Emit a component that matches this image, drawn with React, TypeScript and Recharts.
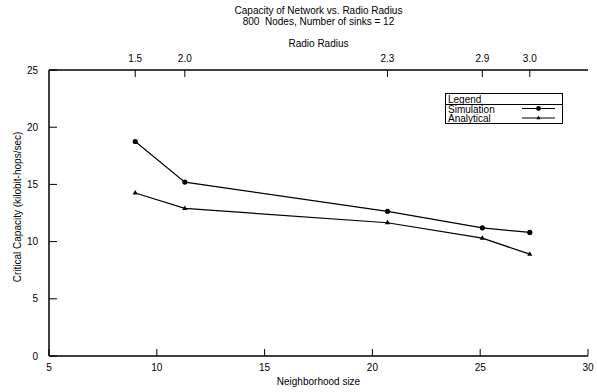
import React from 'react';
import { LineChart, Line, XAxis, YAxis, Label, Legend } from 'recharts';

const neighborhoodSize = [9.0, 11.3, 20.7, 25.1, 27.3];
const radioRadius = ['1.5', '2.0', '2.3', '2.9', '3.0'];
const simulation = [18.75, 15.2, 12.65, 11.2, 10.8];
const analytical = [14.25, 12.9, 11.65, 10.3, 8.9];
const xTicks = [5, 10, 15, 20, 25, 30];
const yTicks = [0, 5, 10, 15, 20, 25];
const titleLines = ['Capacity of Network vs. Radio Radius', '800\u00a0 Nodes, Number of sinks = 12'];

const data = neighborhoodSize.map((n, i) => ({
  n,
  simulation: simulation[i],
  analytical: analytical[i],
}));

const FONT = '"Liberation Sans", Arial, Helvetica, sans-serif';
const FS = 10;

const BottomTick = (props: any) => {
  const { x, y, payload } = props;
  return (
    <g>
      <line x1={x} x2={x} y1={y} y2={y - 7} stroke="#000" strokeWidth={1} />
      <text x={x} y={y + 15} textAnchor="middle" fontSize={FS} fill="#000" fontFamily={FONT}>
        {payload.value}
      </text>
    </g>
  );
};

const TopTick = (props: any) => {
  const { x, y, payload } = props;
  const idx = neighborhoodSize.indexOf(payload.value);
  return (
    <g>
      <line x1={x} x2={x} y1={y} y2={y + 7} stroke="#000" strokeWidth={1} />
      <text x={x} y={y - 8} textAnchor="middle" fontSize={FS} fill="#000" fontFamily={FONT}>
        {idx >= 0 ? radioRadius[idx] : ''}
      </text>
    </g>
  );
};

const LeftTick = (props: any) => {
  const { x, y, payload } = props;
  return (
    <g>
      <line x1={x} x2={x + 8} y1={y} y2={y} stroke="#000" strokeWidth={1} />
      <text x={x - 11} y={y + 3.5} textAnchor="end" fontSize={FS} fill="#000" fontFamily={FONT}>
        {payload.value}
      </text>
    </g>
  );
};

const CircleDot = (props: any) => {
  const { cx, cy } = props;
  return <circle cx={cx} cy={cy} r={2.6} fill="#000" stroke="none" />;
};

const TriDot = (props: any) => {
  const { cx, cy } = props;
  return (
    <path
      d={`M${cx},${cy - 3} L${cx + 2.6},${cy + 1.6} L${cx - 2.6},${cy + 1.6} Z`}
      fill="#000"
      stroke="none"
    />
  );
};

const LegendBox = () => (
  <svg width={119} height={32} style={{ display: 'block', fontFamily: FONT }}>
    <rect x={0.5} y={0.5} width={117} height={30} fill="#fff" stroke="#000" strokeWidth={1} />
    <line x1={0.5} x2={117.5} y1={11.5} y2={11.5} stroke="#000" strokeWidth={1} />
    <text x={3} y={9.5} fontSize={FS} fill="#000">Legend</text>
    <text x={3} y={19.5} fontSize={FS} fill="#000">Simulation</text>
    <line x1={77} x2={110} y1={15.5} y2={15.5} stroke="#000" strokeWidth={1.2} />
    <circle cx={93.5} cy={15.5} r={2.4} fill="#000" />
    <text x={3} y={29} fontSize={FS} fill="#000">Analytical</text>
    <line x1={77} x2={110} y1={25} y2={25} stroke="#000" strokeWidth={1.2} />
    <path d="M93.5,22.5 L95.6,26.2 L91.4,26.2 Z" fill="#000" />
  </svg>
);

export default function App() {
  return (
    <div style={{ position: 'absolute', left: 0, top: 0, width: 597, height: 392, background: '#fff', fontFamily: FONT }}>
      <LineChart
        width={597}
        height={392}
        data={data}
        margin={{ top: 0, right: 9, bottom: 0, left: 0 }}
        style={{ fontFamily: FONT }}
      >
        <XAxis
          xAxisId="bottom"
          dataKey="n"
          type="number"
          domain={[5, 30]}
          ticks={xTicks}
          orientation="bottom"
          height={36}
          tickSize={0}
          tickMargin={0}
          tickLine={false}
          tick={<BottomTick />}
          axisLine={{ stroke: '#000', strokeWidth: 1.5 }}
          interval={0}
        >
          <Label
            content={(p: any) => {
              const vb = p.viewBox || {};
              return (
                <text x={vb.x + vb.width / 2} y={vb.y + 29} textAnchor="middle" fontSize={FS} fill="#000" fontFamily={FONT}>
                  Neighborhood size
                </text>
              );
            }}
          />
        </XAxis>
        <XAxis
          xAxisId="top"
          dataKey="n"
          type="number"
          domain={[5, 30]}
          ticks={neighborhoodSize}
          orientation="top"
          height={70}
          tickSize={0}
          tickMargin={0}
          tickLine={false}
          tick={<TopTick />}
          axisLine={{ stroke: '#000', strokeWidth: 1.5 }}
          interval={0}
        >
          <Label
            content={(p: any) => {
              const vb = p.viewBox || {};
              const cx = vb.x + vb.width / 2;
              return (
                <g fontFamily={FONT} fontSize={FS} fill="#000">
                  <text x={cx} y={14} textAnchor="middle">{titleLines[0]}</text>
                  <text x={cx} y={24.5} textAnchor="middle">{titleLines[1]}</text>
                  <text x={cx} y={46.5} textAnchor="middle">Radio Radius</text>
                </g>
              );
            }}
          />
        </XAxis>
        <YAxis
          yAxisId="left"
          type="number"
          domain={[0, 25]}
          ticks={yTicks}
          orientation="left"
          width={49}
          tickSize={0}
          tickMargin={0}
          tickLine={false}
          tick={<LeftTick />}
          axisLine={{ stroke: '#000', strokeWidth: 1.5 }}
          interval={0}
        >
          <Label
            content={(p: any) => {
              const vb = p.viewBox || {};
              const cy = vb.y + vb.height / 2 - 6;
              return (
                <text
                  x={21}
                  y={cy}
                  textAnchor="middle"
                  fontSize={FS}
                  fill="#000"
                  fontFamily={FONT}
                  transform={`rotate(-90 21 ${cy})`}
                >
                  Critical Capacity (kilobit-hops/sec)
                </text>
              );
            }}
          />
        </YAxis>
        <YAxis
          yAxisId="right"
          type="number"
          domain={[0, 25]}
          orientation="right"
          width={0}
          tick={false}
          tickLine={false}
          axisLine={{ stroke: '#000', strokeWidth: 1.5 }}
        />
        <Legend
          layout="horizontal"
          verticalAlign="middle"
          align="center"
          content={<LegendBox />}
          wrapperStyle={{ position: 'absolute', left: 445, top: 93, width: 119, height: 32 }}
        />
        <Line
          xAxisId="bottom"
          yAxisId="left"
          type="linear"
          dataKey="simulation"
          name="Simulation"
          stroke="#000"
          strokeWidth={1.2}
          dot={<CircleDot />}
          activeDot={false}
          isAnimationActive={false}
        />
        <Line
          xAxisId="bottom"
          yAxisId="left"
          type="linear"
          dataKey="analytical"
          name="Analytical"
          stroke="#000"
          strokeWidth={1.2}
          dot={<TriDot />}
          activeDot={false}
          isAnimationActive={false}
        />
      </LineChart>
    </div>
  );
}
